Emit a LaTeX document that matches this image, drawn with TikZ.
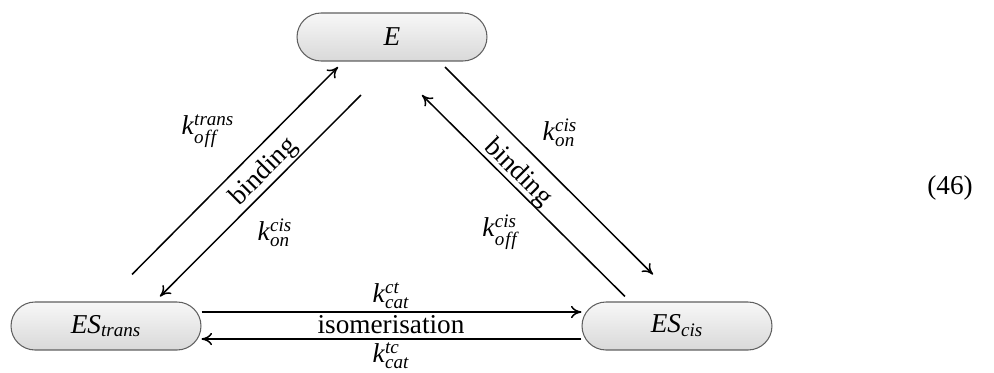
\documentclass[tikz,border=0pt]{standalone}
\usepackage{amsmath}
\usepackage{fontspec}
\setmainfont{Liberation Serif}
\usetikzlibrary{arrows.meta}
\newcommand{\ktaux}[2]{\textit{k}$^{\textit{#1}}_{\textit{#2}}$}
\begin{document}
\begin{tikzpicture}[x=0.02cm,y=-0.02cm,font=\fontsize{15.5}{18}\selectfont]
			\tikzstyle{etat}=[draw=gray!75!black,line width=0.6pt,rounded corners=0.48cm,top color=gray!6,bottom color=gray!30,minimum width=3.8cm,minimum height=0.96cm,inner sep=0pt]
			\tikzstyle{fleche}=[line width=0.85pt,-{To[length=6pt,width=7pt]}]
			\tikzstyle{taux}=[inner sep=1pt]
			\def\off{o\kern0.5pt f\kern0.5pt f}
			\useasboundingbox (0,0) rectangle (994,372);
			\node[etat] (E) at (392,37) {\textit{E}};
			\node[etat] (ESt) at (106,326) {\textit{ES}$_{\textit{trans}}$};
			\node[etat] (ESc) at (677,326) {\textit{ES}$_{\textit{cis}}$};
			\draw[fleche] ([shift={(26,-27)}]ESt.north)--([shift={(-54,5.5)}]E.south) ;
			\draw[fleche] ([shift={(-31,33.5)}]E.south)--([shift={(54,-5)}]ESt.north) ;
			\draw[fleche] ([shift={(53,5.5)}]E.south)--([shift={(-24,-27)}]ESc.north) ;
			\draw[fleche] ([shift={(-52,-5)}]ESc.north)--([shift={(30,33.5)}]E.south) ;
			\draw[fleche] ([yshift=0.28cm]ESt.east)--([yshift=0.28cm]ESc.west) ;
			\draw[fleche] ([yshift=-0.26cm]ESc.west)--([yshift=-0.26cm]ESt.east) ;
			\node[rotate=45] (liaisonG) at (264,172) {binding};
			\node[rotate=-45] (liaisonD) at (518,173) {binding};
			\node (isom) at (391,325) {isomerisation};
			\node[taux] (koffT) at (208,131) {\ktaux{trans}{\off}};
			\node[taux] (konG) at (275,233) {\ktaux{cis}{on}};
			\node[taux] (konD) at (560,133) {\ktaux{cis}{on}};
			\node[taux] (koffC) at (500,232) {\ktaux{cis}{\off}};
			\node[taux] (kct) at (391,296) {\ktaux{ct}{cat}};
			\node[taux] (ktc) at (391,356) {\ktaux{tc}{cat}};
			\node (eq) at (950,188) {(46)};
		\end{tikzpicture}
\end{document}
